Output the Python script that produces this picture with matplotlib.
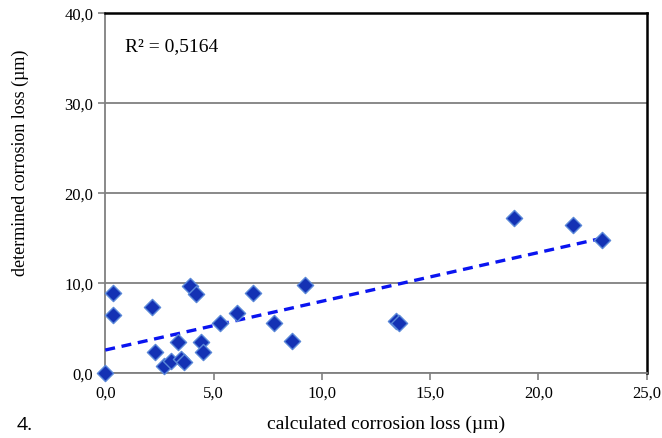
import numpy as np
import matplotlib
matplotlib.use('Agg')
import matplotlib.pyplot as plt

# calculated vs determined corrosion loss (µm)
calc_loss = [0.0, 0.34, 0.34, 2.18, 2.30, 2.69, 3.04, 3.38, 3.49, 3.64,
             3.92, 4.19, 4.44, 4.53, 5.28, 6.07, 6.84, 7.80, 8.63, 9.23,
             13.40, 13.55, 18.88, 21.58, 22.92]
det_loss = [0.0, 8.85, 6.48, 7.33, 2.37, 0.74, 1.30, 3.48, 1.56, 1.26,
            9.70, 8.74, 3.48, 2.30, 5.56, 6.67, 8.85, 5.56, 3.59, 9.78,
            5.81, 5.56, 17.19, 16.44, 14.81]
x_ticks = [0, 5, 10, 15, 20, 25]
y_ticks = [0, 10, 20, 30, 40]
r2_text = 'R² = 0,5164'

plt.rcParams['font.family'] = ['Liberation Serif', 'DejaVu Serif']

fig = plt.figure(figsize=(6.62, 4.39), dpi=100)
ax = fig.add_axes([0.159, 0.148, 0.818, 0.820])

# trendline (linear, over the data range)
coef = np.polyfit(calc_loss, det_loss, 1)
xs = np.array([min(calc_loss), max(calc_loss)])
ax.plot(xs, np.polyval(coef, xs), linestyle=(0, (3, 2)), color='#0a14f0', lw=2.4, zorder=3)

ax.scatter(calc_loss, det_loss, marker='D', s=68, facecolor='#1432b4',
           edgecolor='#5a88d8', linewidth=1.0, zorder=4, clip_on=False)

ax.set_xlim(0, 25)
ax.set_ylim(0, 40)
ax.set_xticks(x_ticks)
ax.set_yticks(y_ticks)
ax.set_xticklabels([f'{v:.1f}'.replace('.', ',') for v in x_ticks], fontsize=12)
ax.set_yticklabels([f'{v:.1f}'.replace('.', ',') for v in y_ticks], fontsize=12)
ax.tick_params(colors='#808080', labelcolor='black', length=5, width=1.2)

ax.grid(axis='y', color='#808080', lw=1.3)
ax.set_axisbelow(True)
for side in ['left', 'bottom']:
    ax.spines[side].set_color('#808080')
    ax.spines[side].set_linewidth(1.3)
for side in ['top', 'right']:
    ax.spines[side].set_color('black')
    ax.spines[side].set_linewidth(1.8)

ax.text(0.037, 0.91, r2_text, transform=ax.transAxes, fontsize=14, va='center')

fig.text(0.030, 0.628, 'determined corrosion loss (µm)', rotation=90,
         fontsize=13, ha='center', va='center')
fig.text(0.583, 0.033, 'calculated corrosion loss (µm)', fontsize=14,
         ha='center', va='center')
fig.text(0.038, 0.033, '4.', fontsize=14, ha='center', va='center',
         family='Open Sans')

fig.savefig('out.png', dpi=100)
